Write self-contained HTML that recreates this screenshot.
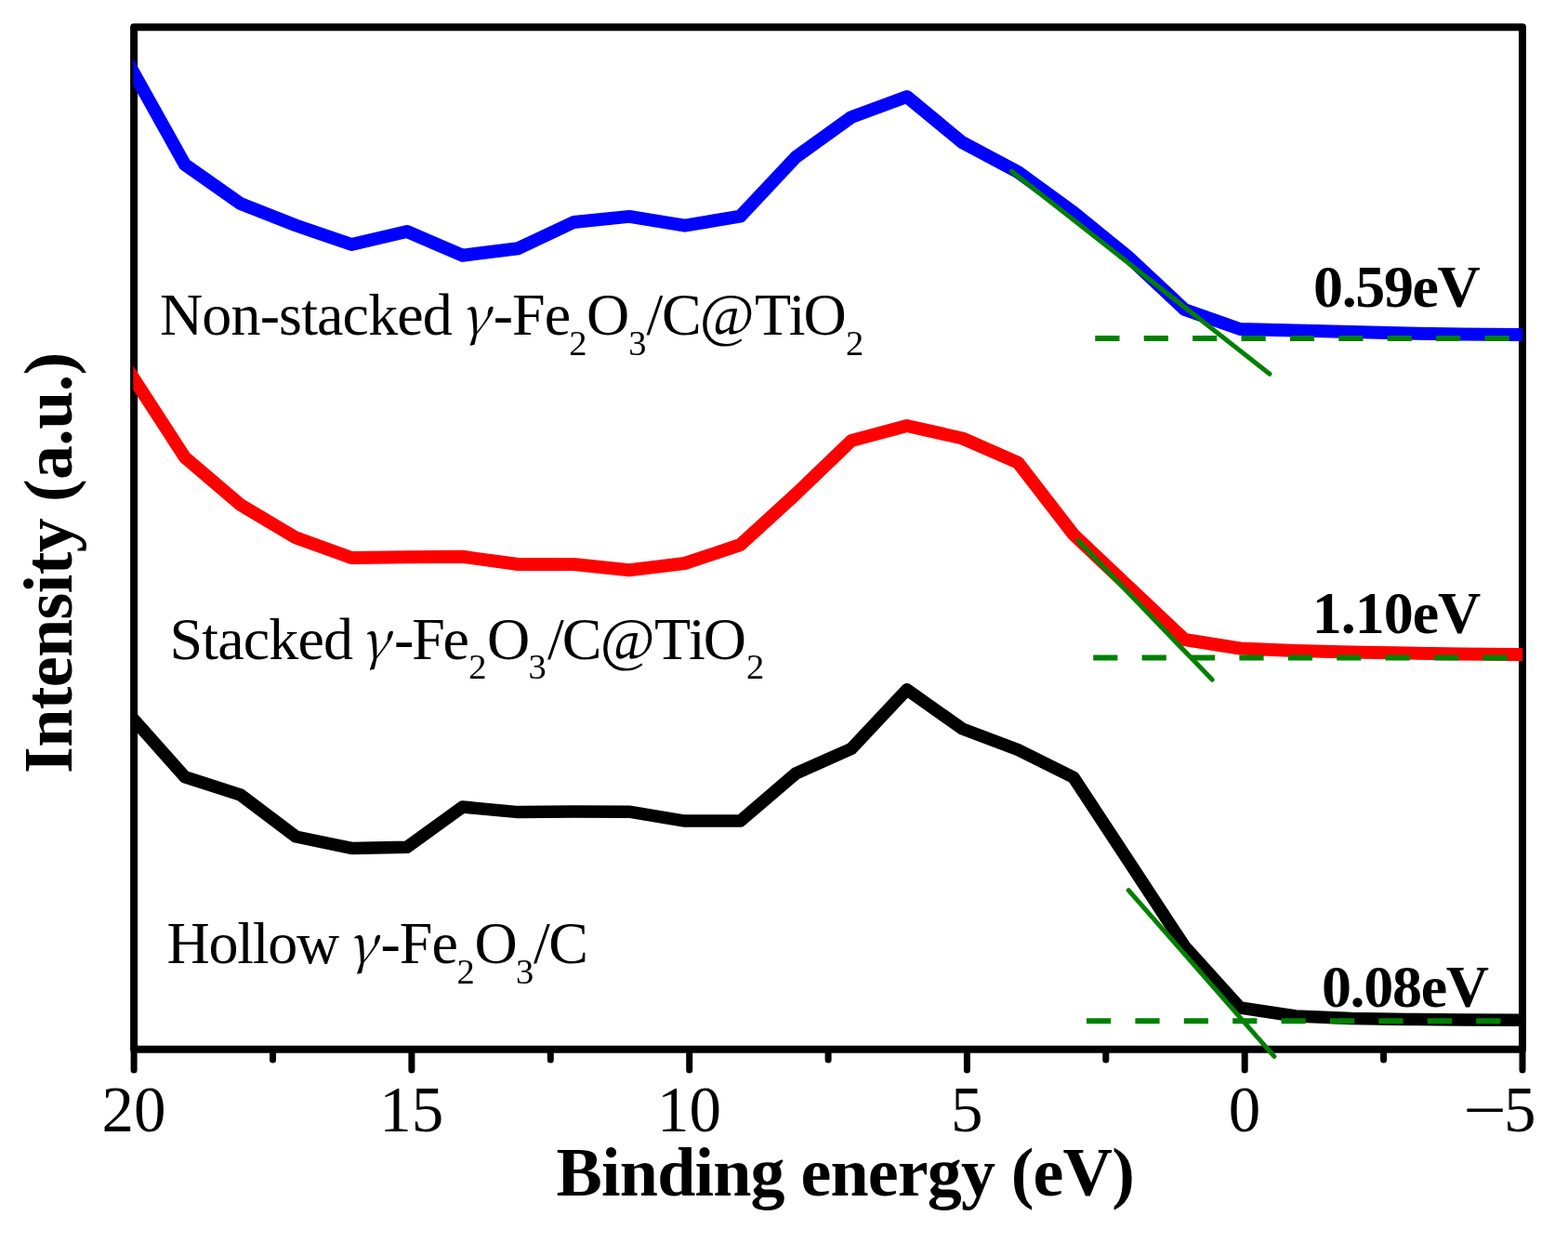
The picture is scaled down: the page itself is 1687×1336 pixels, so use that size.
<!DOCTYPE html>
<html><head><meta charset="utf-8"><title>Binding energy plot</title>
<style>html,body{margin:0;padding:0;background:#fff;overflow:hidden}svg{display:block}</style>
</head><body>
<svg width="1687" height="1336" viewBox="0 0 1687 1336"><defs><clipPath id="pa"><rect x="143.3" y="29" width="1494.9" height="1100"/></clipPath></defs><rect width="100%" height="100%" fill="#fff"/><rect x="144.1" y="29.2" width="1493.9" height="1099.6" fill="none" stroke="#000" stroke-width="8" stroke-linejoin="round"/><g clip-path="url(#pa)" fill="none" stroke-linejoin="round"><polyline points="120.0,35.6 198.9,177.0 258.7,219.0 318.4,242.5 378.2,263.0 437.9,249.0 497.7,274.7 557.5,267.2 617.2,239.0 677.0,232.9 736.7,242.7 796.5,232.6 856.2,169.0 916.0,126.0 975.7,104.0 1035.5,153.3 1095.2,185.0 1155.0,228.5 1214.7,277.0 1274.5,333.0 1334.2,354.0 1394.0,355.5 1453.7,357.0 1513.5,358.5 1573.2,359.5 1633.0,360.0 1692.7,360.5" stroke="#0000ff" stroke-width="14"/><polyline points="120.0,370.4 198.9,492.0 258.7,543.0 318.4,578.4 378.2,600.0 437.9,599.3 497.7,598.8 557.5,607.0 617.2,607.0 677.0,613.3 736.7,606.0 796.5,586.0 856.2,531.5 916.0,474.0 975.7,458.0 1035.5,471.5 1095.2,497.6 1155.0,575.0 1214.7,631.5 1274.5,688.0 1334.2,697.5 1394.0,700.0 1453.7,701.5 1513.5,702.5 1573.2,703.5 1633.0,704.0 1692.7,704.5" stroke="#ff0000" stroke-width="14"/><polyline points="120.0,747.0 198.9,835.8 258.7,855.0 318.4,900.0 378.2,912.4 437.9,911.2 497.7,868.0 557.5,873.6 617.2,873.0 677.0,873.2 736.7,883.1 796.5,883.1 856.2,832.0 916.0,805.4 975.7,741.8 1035.5,784.0 1095.2,806.5 1155.0,836.2 1214.7,927.0 1274.5,1018.0 1334.2,1084.0 1394.0,1093.0 1453.7,1095.5 1513.5,1096.5 1573.2,1097.0 1633.0,1097.3 1692.7,1097.5" stroke="#000" stroke-width="13.5"/></g><g stroke="#008000" fill="none"><line x1="1088.4" y1="184.2" x2="1366" y2="402.3" stroke-width="5" stroke-linecap="round"/><line x1="1160" y1="581.6" x2="1304.1" y2="731.1" stroke-width="5" stroke-linecap="round"/><line x1="1214.2" y1="957.6" x2="1370.9" y2="1136.3" stroke-width="5" stroke-linecap="round"/><line x1="1178.3" y1="364" x2="1632" y2="364" stroke-width="6" stroke-dasharray="26.2 26.2"/><line x1="1176.2" y1="707.5" x2="1632" y2="707.5" stroke-width="6" stroke-dasharray="26.2 26.2"/><line x1="1169" y1="1098.3" x2="1632" y2="1098.3" stroke-width="6" stroke-dasharray="26.2 26.2"/></g><g stroke="#000" stroke-width="7" stroke-linecap="round"><line x1="144.1" y1="1129" x2="144.1" y2="1151"/><line x1="293.5" y1="1129" x2="293.5" y2="1140"/><line x1="442.9" y1="1129" x2="442.9" y2="1151"/><line x1="592.3" y1="1129" x2="592.3" y2="1140"/><line x1="741.7" y1="1129" x2="741.7" y2="1151"/><line x1="891.1" y1="1129" x2="891.1" y2="1140"/><line x1="1040.4" y1="1129" x2="1040.4" y2="1151"/><line x1="1189.8" y1="1129" x2="1189.8" y2="1140"/><line x1="1339.2" y1="1129" x2="1339.2" y2="1151"/><line x1="1488.6" y1="1129" x2="1488.6" y2="1140"/><line x1="1638.0" y1="1129" x2="1638.0" y2="1151"/></g><g font-family="'Liberation Serif',serif" font-size="69" fill="#000" text-anchor="middle"><text x="144.0" y="1217">20</text><text x="442.8" y="1217">15</text><text x="741.5" y="1217">10</text><text x="1040.2" y="1217">5</text><text x="1339.0" y="1217">0</text></g><text x="1618.0" y="1217" font-family="'Liberation Serif',serif" font-size="69">5</text><text transform="translate(1574.4,1217) scale(1.199,1)" font-family="'Liberation Serif',serif" font-size="69">−</text><text fill="#000" style="font-kerning:none"><tspan x="172.0" y="360.4" font-family="'Liberation Serif',serif" font-size="64" letter-spacing="-0.86">Non-stacked</tspan><tspan x="495.8" y="360.4" font-family="'Noto Serif CJK SC','Liberation Serif',serif" font-size="57" font-style="italic">γ</tspan><tspan x="530.7" y="360.4" font-family="'Liberation Serif',serif" font-size="64" letter-spacing="-0.96">-Fe</tspan><tspan x="612.3" y="381.9" font-family="'Liberation Serif',serif" font-size="38.5">2</tspan><tspan x="631.1" y="360.4" font-family="'Liberation Serif',serif" font-size="64">O</tspan><tspan x="676.2" y="381.9" font-family="'Liberation Serif',serif" font-size="38.5">3</tspan><tspan x="695.6" y="360.4" font-family="'Liberation Serif',serif" font-size="64" letter-spacing="-1.44">/C</tspan><tspan x="752.8" y="360.4" font-family="'Liberation Serif',serif" font-size="64">@</tspan><tspan x="811.9" y="360.4" font-family="'Liberation Serif',serif" font-size="64" letter-spacing="-2.11">TiO</tspan><tspan x="909.9" y="381.9" font-family="'Liberation Serif',serif" font-size="38.5">2</tspan></text><text fill="#000" style="font-kerning:none"><tspan x="182.4" y="708.8" font-family="'Liberation Serif',serif" font-size="64" letter-spacing="-0.81">Stacked</tspan><tspan x="388.0" y="708.8" font-family="'Noto Serif CJK SC','Liberation Serif',serif" font-size="57" font-style="italic">γ</tspan><tspan x="424.0" y="708.8" font-family="'Liberation Serif',serif" font-size="64" letter-spacing="-2.16">-Fe</tspan><tspan x="504.2" y="730.3" font-family="'Liberation Serif',serif" font-size="38.5">2</tspan><tspan x="524.1" y="708.8" font-family="'Liberation Serif',serif" font-size="64">O</tspan><tspan x="568.4" y="730.3" font-family="'Liberation Serif',serif" font-size="38.5">3</tspan><tspan x="588.9" y="708.8" font-family="'Liberation Serif',serif" font-size="64" letter-spacing="-1.94">/C</tspan><tspan x="645.7" y="708.8" font-family="'Liberation Serif',serif" font-size="64">@</tspan><tspan x="703.9" y="708.8" font-family="'Liberation Serif',serif" font-size="64" letter-spacing="-1.96">TiO</tspan><tspan x="803.0" y="730.3" font-family="'Liberation Serif',serif" font-size="38.5">2</tspan></text><text fill="#000" style="font-kerning:none"><tspan x="179.6" y="1036.3" font-family="'Liberation Serif',serif" font-size="64" letter-spacing="-1.26">Hollow</tspan><tspan x="374.3" y="1036.3" font-family="'Noto Serif CJK SC','Liberation Serif',serif" font-size="57" font-style="italic">γ</tspan><tspan x="409.4" y="1036.3" font-family="'Liberation Serif',serif" font-size="64" letter-spacing="-0.91">-Fe</tspan><tspan x="491.5" y="1057.8" font-family="'Liberation Serif',serif" font-size="38.5">2</tspan><tspan x="510.5" y="1036.3" font-family="'Liberation Serif',serif" font-size="64">O</tspan><tspan x="555.0" y="1057.8" font-family="'Liberation Serif',serif" font-size="38.5">3</tspan><tspan x="573.9" y="1036.3" font-family="'Liberation Serif',serif" font-size="64" letter-spacing="-1.34">/C</tspan></text><text x="1413.0" y="329.9" font-family="'Liberation Serif',serif" font-weight="bold" font-size="64" letter-spacing="-1.37" style="font-kerning:none">0.59eV</text><text x="1411.8" y="680.5" font-family="'Liberation Serif',serif" font-weight="bold" font-size="64" letter-spacing="-1.02" style="font-kerning:none">1.10eV</text><text x="1421.9" y="1083.2" font-family="'Liberation Serif',serif" font-weight="bold" font-size="64" letter-spacing="-1.31" style="font-kerning:none">0.08eV</text><text x="598.6" y="1285.8" font-family="'Liberation Serif',serif" font-weight="bold" font-size="74" letter-spacing="-0.83" style="font-kerning:none">Binding energy (eV)</text><text transform="translate(76.6,831.9) rotate(-90)" x="0" y="0" font-family="'Liberation Serif',serif" font-weight="bold" font-size="74" letter-spacing="-0.63" style="font-kerning:none">Intensity (a.u.)</text></svg>
</body></html>
